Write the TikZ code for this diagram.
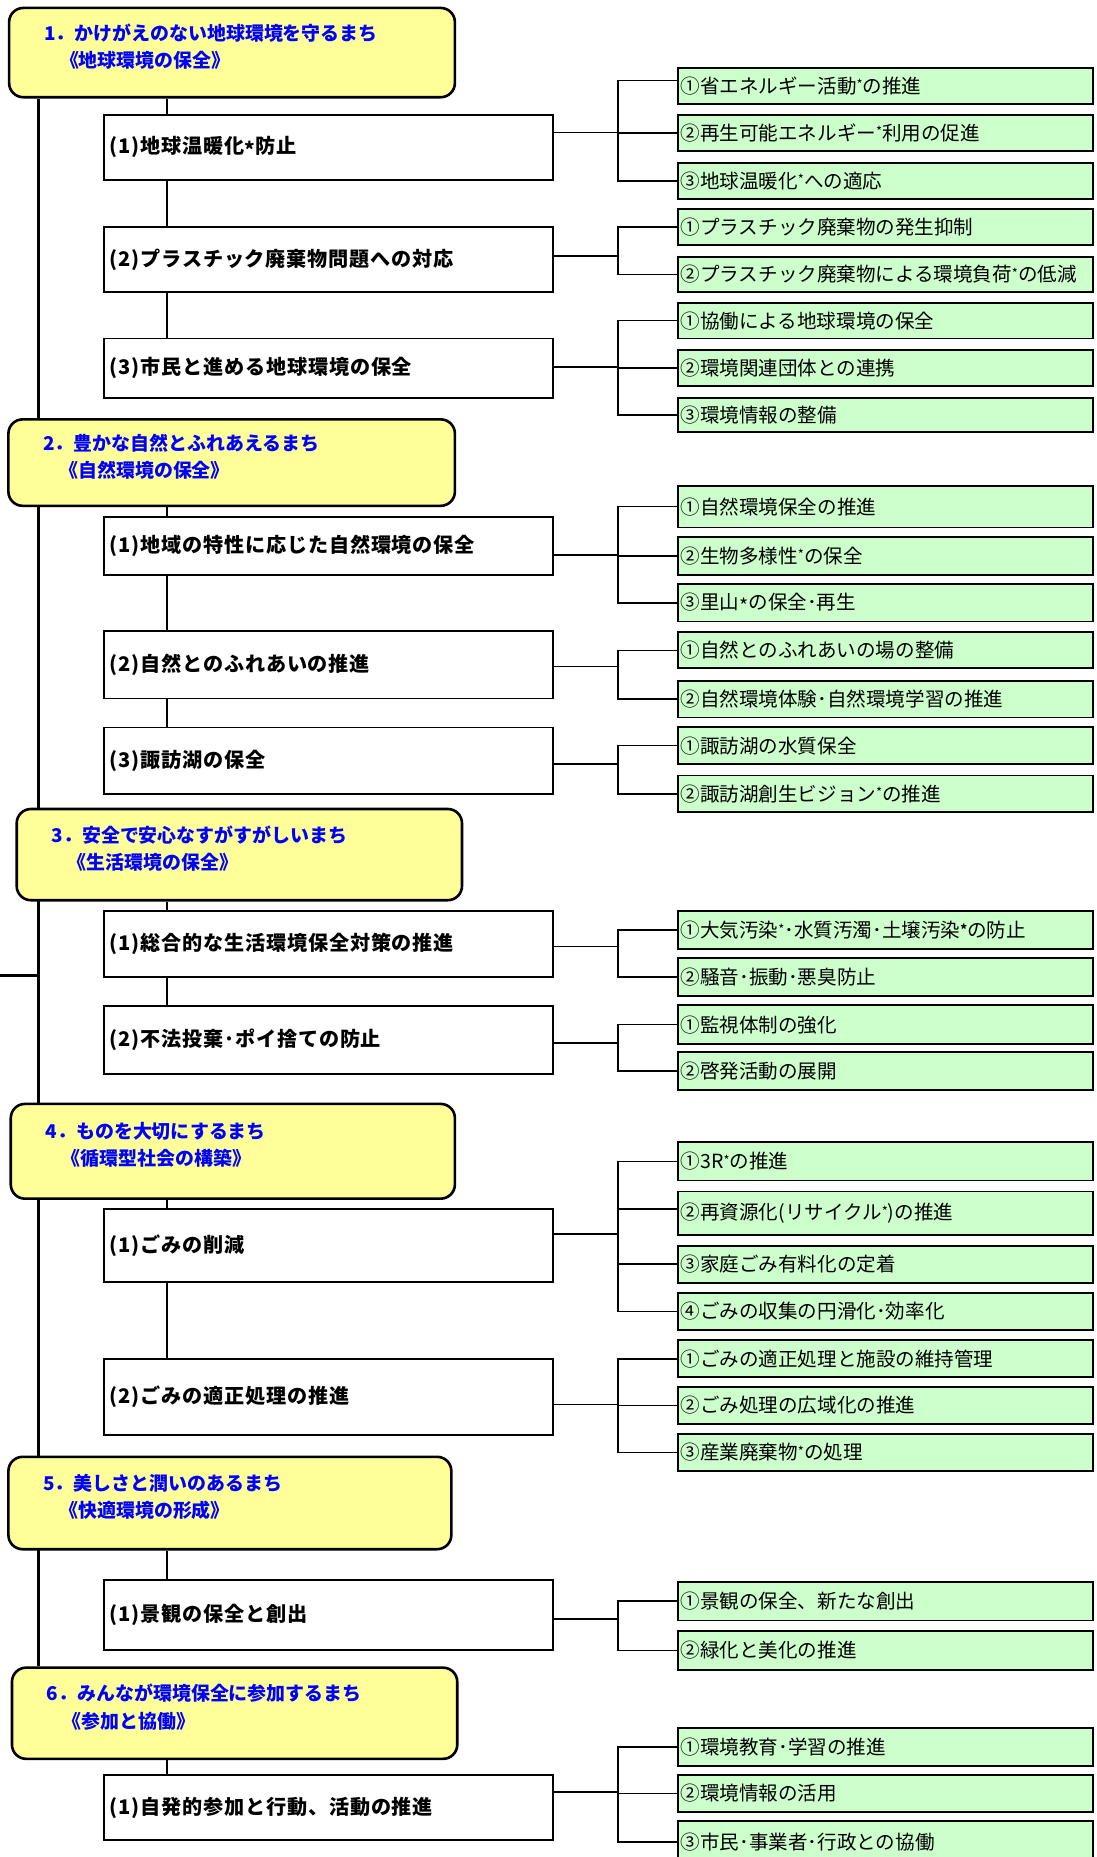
\documentclass[tikz,border=0pt]{standalone}
\usepackage{fontspec}
\setmainfont{Noto Sans CJK JP}
\definecolor{hdrfill}{HTML}{FFFF99}
\definecolor{grnfill}{HTML}{CCFFCC}
\definecolor{hdrtext}{HTML}{0000FF}
\newcommand\supast{\raisebox{3pt}{\fontsize{11}{11}\selectfont *}}
\newcommand\bsupast{\raisebox{3pt}{\fontsize{11}{11}\selectfont\bfseries *}}
\newcommand\midast{\raisebox{-3.5pt}{*}}
\newcommand\lasttwo{\rule[-12pt]{0pt}{0pt}}
\pgfdeclarelayer{bg}
\pgfsetlayers{bg,main}
\newcommand\GB[4]{\node[grnbox, minimum height={#3-#2}] (#1) at (571.5,#2) {#4};}
\newcommand\SB[4]{\node[subbox, minimum height={#3-#2}] (#1) at (87,#2) {#4};}
\begin{document}
\begin{tikzpicture}[x=1pt,y=-1pt,
  hdr/.style={draw, line width=2.2pt, fill=hdrfill, rounded corners=12pt, anchor=north west,
    inner xsep=29.5pt, inner ysep=0pt, align=left, text=hdrtext,
    font=\fontsize{16}{23}\selectfont\bfseries},
  subbox/.style={draw, line width=1.6pt, fill=white, anchor=north west, inner xsep=5pt, inner ysep=0pt,
    text width=369pt, minimum width=379pt, align=left,
    font=\fontsize{17}{20}\selectfont\bfseries\addfontfeatures{LetterSpace=4}},
  grnbox/.style={draw, line width=1.6pt, fill=grnfill, anchor=north west, inner xsep=2.5pt, inner ysep=0pt,
    text width=345.5pt, minimum width=350.5pt, align=left,
    font=\fontsize{16.5}{18}\selectfont},
  conn/.style={line width=1.3pt},
  trunk/.style={line width=3pt}]
\useasboundingbox (0,0) rectangle (926,1568);

% headers
\node[hdr, minimum width=376.4pt, text width=317.4pt, minimum height=75.4pt] (h1) at (6.6,5.6)
  {1．かけがえのない地球環境を守るまち\\\hspace{13.5pt}《地球環境の保全》\lasttwo};
\node[hdr, minimum width=377pt, text width=318pt, minimum height=73pt] (h2) at (6,353)
  {2．豊かな自然とふれあえるまち\\\hspace{13.5pt}《自然環境の保全》\lasttwo};
\node[hdr, minimum width=376pt, text width=317pt, minimum height=77pt] (h3) at (13,682)
  {3．安全で安心なすがすがしいまち\\\hspace{13.5pt}《生活環境の保全》\lasttwo};
\node[hdr, minimum width=375pt, text width=316pt, minimum height=80pt] (h4) at (8,931)
  {4．ものを大切にするまち\\\hspace{13.5pt}《循環型社会の構築》\lasttwo};
\node[hdr, minimum width=374pt, text width=315pt, minimum height=78pt] (h5) at (6,1229)
  {5．美しさと潤いのあるまち\\\hspace{13.5pt}《快適環境の形成》\lasttwo};
\node[hdr, minimum width=376pt, text width=317pt, minimum height=77pt] (h6) at (9,1407)
  {6．みんなが環境保全に参加するまち\\\hspace{13.5pt}《参加と協働》\lasttwo};

% sub boxes
\SB{s11}{96}{151}{(1)地球温暖化\midast{}防止}
\SB{s12}{191}{246}{(2)プラスチック廃棄物問題への対応}
\SB{s13}{285}{335}{(3)市民と進める地球環境の保全}
\SB{s21}{436}{484.5}{(1)地域の特性に応じた自然環境の保全}
\SB{s22}{532}{589}{(2)自然とのふれあいの推進}
\SB{s23}{613.5}{669.5}{(3)諏訪湖の保全}
\SB{s31}{768.5}{824.5}{(1)総合的な生活環境保全対策の推進}
\SB{s32}{849}{906}{(2)不法投棄･ポイ捨ての防止}
\SB{s41}{1020}{1082}{(1)ごみの削減}
\SB{s42}{1146.5}{1210.5}{(2)ごみの適正処理の推進}
\SB{s51}{1333}{1392.5}{(1)景観の保全と創出}
\SB{s61}{1497.7}{1553}{(1)自発的参加と行動、活動の推進}

% green boxes
\GB{g111}{56.3}{87.2}{①省エネルギー活動\supast{}の推進}
\GB{g112}{96.2}{126.6}{②再生可能エネルギー\supast{}利用の促進}
\GB{g113}{136.5}{167.4}{③地球温暖化\supast{}への適応}
\GB{g121}{176}{206}{①プラスチック廃棄物の発生抑制}
\GB{g122}{216}{246}{②プラスチック廃棄物による環境負荷\supast{}の低減}
\GB{g131}{255}{285}{①協働による地球環境の保全}
\GB{g132}{295}{325}{②環境関連団体との連携}
\GB{g133}{335}{364}{③環境情報の整備}
\GB{g211}{409.4}{444.6}{①自然環境保全の推進}
\GB{g212}{453}{484.5}{②生物多様性\supast{}の保全}
\GB{g213}{492.4}{524}{③里山\midast{}の保全･再生}
\GB{g221}{533}{563.6}{①自然とのふれあいの場の整備}
\GB{g222}{574}{605}{②自然環境体験･自然環境学習の推進}
\GB{g231}{613.4}{644.3}{①諏訪湖の水質保全}
\GB{g232}{654}{685}{②諏訪湖創生ビジョン\supast{}の推進}
\GB{g311}{768.7}{800.5}{①大気汚染\supast{}･水質汚濁･土壌汚染\bsupast{}の防止}
\GB{g312}{808}{840}{②騒音･振動･悪臭防止}
\GB{g321}{848}{880.7}{①監視体制の強化}
\GB{g322}{887.7}{919.5}{②啓発活動の展開}
\GB{g411}{963.7}{996}{①3R\supast{}の推進}
\GB{g412}{1005.3}{1042}{②再資源化(リサイクル\supast{})の推進}
\GB{g413}{1051}{1082.4}{③家庭ごみ有料化の定着}
\GB{g414}{1090.9}{1122}{④ごみの収集の円滑化･効率化}
\GB{g421}{1131}{1162}{①ごみの適正処理と施設の維持管理}
\GB{g422}{1170.5}{1201.4}{②ごみ処理の広域化の推進}
\GB{g423}{1209.8}{1241.4}{③産業廃棄物\supast{}の処理}
\GB{g511}{1335}{1367.5}{①景観の保全、新たな創出}
\GB{g512}{1376}{1409.6}{②緑化と美化の推進}
\GB{g611}{1458.3}{1490.4}{①環境教育･学習の推進}
\GB{g612}{1497.7}{1529.3}{②環境情報の活用}
\GB{g613}{1537.1}{1572}{③市民･事業者･行政との協働}

% junctions
\coordinate (tx) at (32.5,0);
\coordinate (vx) at (140.8,0);
\coordinate (rootin) at (0,823.6);
\coordinate (j11) at (522,112);
\coordinate (j12) at (522,216);
\coordinate (j13) at (522,310);
\coordinate (j21) at (522,468.5);
\coordinate (j22) at (522,562.7);
\coordinate (j23) at (522,645);
\coordinate (j31) at (522,799);
\coordinate (j32) at (522,880.7);
\coordinate (j41) at (522,1041.9);
\coordinate (j42) at (522,1186);
\coordinate (j51) at (522,1366.9);
\coordinate (j61) at (522,1513.2);
\coordinate (g111in) at ([yshift=4.75pt]g111.west);
\coordinate (g412in) at ([yshift=3.4pt]g412.west);

\begin{pgfonlayer}{bg}
\draw[trunk] (h1.south -| tx) -- (h6.north -| tx);
\draw[trunk] (rootin) -- (rootin -| tx);
\end{pgfonlayer}

% vertical links header -> sub boxes
\draw[conn] (h1.south -| vx) -- (s11.north -| vx);
\draw[conn] (s11.south -| vx) -- (s12.north -| vx);
\draw[conn] (s12.south -| vx) -- (s13.north -| vx);
\draw[conn] (h2.south -| vx) -- (s21.north -| vx);
\draw[conn] (s21.south -| vx) -- (s22.north -| vx);
\draw[conn] (s22.south -| vx) -- (s23.north -| vx);
\draw[conn] (h3.south -| vx) -- (s31.north -| vx);
\draw[conn] (s31.south -| vx) -- (s32.north -| vx);
\draw[conn] (h4.south -| vx) -- (s41.north -| vx);
\draw[conn] (s41.south -| vx) -- (s42.north -| vx);
\draw[conn] (h5.south -| vx) -- (s51.north -| vx);
\draw[conn] (h6.south -| vx) -- (s61.north -| vx);

% sub box -> junction
\foreach \s/\j in {s11/j11,s12/j12,s13/j13,s21/j21,s22/j22,s23/j23,s31/j31,s32/j32,s41/j41,s42/j42,s51/j51,s61/j61}
  \draw[conn] (\s.east |- \j) -- (\j);

% brackets
\draw[conn] (g111in) -| (j11) |- (g113.west);
\draw[conn] (j11 |- g112.west) -- (g112.west);
\draw[conn] (g121.west) -| (j12) |- (g122.west);
\draw[conn] (g131.west) -| (j13) |- (g133.west);
\draw[conn] (j13 |- g132.west) -- (g132.west);
\draw[conn] (g211.west) -| (j21) |- (g213.west);
\draw[conn] (j21 |- g212.west) -- (g212.west);
\draw[conn] (g221.west) -| (j22) |- (g222.west);
\draw[conn] (g231.west) -| (j23) |- (g232.west);
\draw[conn] (g311.west) -| (j31) |- (g312.west);
\draw[conn] (g321.west) -| (j32) |- (g322.west);
\draw[conn] (g411.west) -| (j41) |- (g414.west);
\draw[conn] (j41 |- g412in) -- (g412in);
\draw[conn] (j41 |- g413.west) -- (g413.west);
\draw[conn] (g421.west) -| (j42) |- (g423.west);
\draw[conn] (j42 |- g422.west) -- (g422.west);
\draw[conn] (g511.west) -| (j51) |- (g512.west);
\draw[conn] (g611.west) -| (j61) |- (g613.west);
\draw[conn] (j61 |- g612.west) -- (g612.west);
\end{tikzpicture}
\end{document}
